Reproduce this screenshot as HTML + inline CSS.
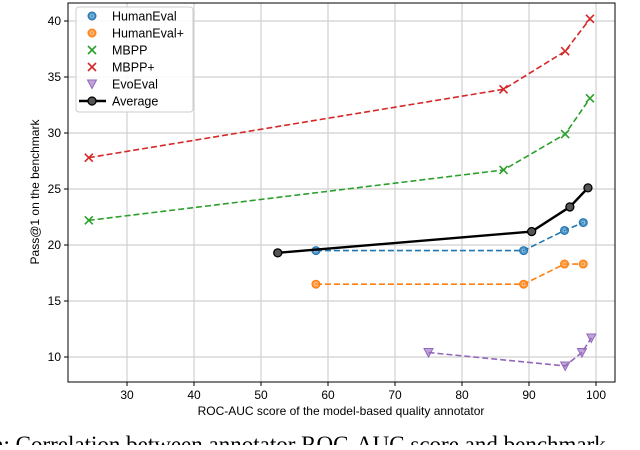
<!DOCTYPE html>
<html><head><meta charset="utf-8"><style>
body{margin:0;background:#fff;width:640px;height:445px;overflow:hidden;font-family:"Liberation Sans","DejaVu Sans",sans-serif}
</style></head><body>
<svg id="chart" width="640" height="445" xmlns="http://www.w3.org/2000/svg">
<g id="grid"></g>
<g id="series"></g>
<rect x="68" y="3" width="547" height="379" fill="none" stroke="#000" stroke-width="1"/>
<g id="ticks"></g>
<text x="341" y="415" font-size="12" text-anchor="middle">ROC-AUC score of the model-based quality annotator</text>
<text transform="translate(39,192) rotate(-90)" font-size="12" text-anchor="middle">Pass@1 on the benchmark</text>
<text x="-8" y="452" font-size="23" font-family="Liberation Serif,serif">n: Correlation between annotator ROC-AUC score and benchmark</text>
<g id="legend"></g>
</svg>
<script>
const xTicks=[30,40,50,60,70,80,90,100];
const yTicks=[10,15,20,25,30,35,40];
const seriesNames=["HumanEval","HumanEval+","MBPP","MBPP+","EvoEval","Average"];
const humanEvalX=[58.2,89.2,95.3,98.1], humanEvalY=[19.5,19.5,21.3,22.0];
const humanEvalPlusX=[58.2,89.2,95.3,98.1], humanEvalPlusY=[16.5,16.5,18.3,18.3];
const mbppX=[24.3,86.2,95.4,99.1], mbppY=[22.2,26.7,29.9,33.1];
const mbppPlusX=[24.3,86.2,95.4,99.1], mbppPlusY=[27.8,33.9,37.3,40.2];
const evoX=[75.0,95.4,97.9,99.3], evoY=[10.4,9.2,10.4,11.7];
const avgX=[52.5,90.4,96.1,98.8], avgY=[19.3,21.2,23.4,25.1];

const sx=v=>596+(v-100)*6.7;
const sy=v=>21+(40-v)*11.2;
const NS="http://www.w3.org/2000/svg";
function mk(tag,attrs,parent){const e=document.createElementNS(NS,tag);for(const k in attrs)e.setAttribute(k,attrs[k]);parent.appendChild(e);return e;}
const grid=document.getElementById('grid'),ticks=document.getElementById('ticks'),ser=document.getElementById('series'),leg=document.getElementById('legend');
xTicks.forEach(t=>{
  const l=mk('line',{x1:sx(t),x2:sx(t),y1:3,y2:382,stroke:'#d0d0d0','stroke-width':1.2},grid);
  
  
  const tk=mk('line',{x1:sx(t),x2:sx(t),y1:382,y2:386,stroke:'#000'},ticks);
  
  
  const tx=mk('text',{x:sx(t),y:399,'font-size':12,'text-anchor':'middle'},ticks);tx.textContent=t;
  
  
});
yTicks.forEach(t=>{
  const l=mk('line',{x1:68,x2:615,y1:sy(t),y2:sy(t),stroke:'#d0d0d0','stroke-width':1.2},grid);
  
  
  const tk=mk('line',{x1:64,x2:68,y1:sy(t),y2:sy(t),stroke:'#000'},ticks);
  
  
  const tx=mk('text',{x:61,y:sy(t)+4,'font-size':12,'text-anchor':'end'},ticks);tx.textContent=t;
  
  
});
function marker(type,x,y,c,p){
  if(type==='o'){mk('circle',{cx:x,cy:y,r:4,fill:c,stroke:c,'fill-opacity':0.8},p);mk('circle',{cx:x,cy:y,r:1.5,fill:'none',stroke:'#fff','stroke-width':0.6,'stroke-opacity':0.6},p);}
  else if(type==='x'){mk('path',{d:`M${x-4} ${y-4}L${x+4} ${y+4}M${x-4} ${y+4}L${x+4} ${y-4}`,stroke:c,'stroke-width':1.6},p);}
  else if(type==='v'){mk('path',{d:`M${x-4.5} ${y-4}L${x+4.5} ${y-4}L${x} ${y+4.5}Z`,fill:c,'fill-opacity':0.6,stroke:c},p);}
  else if(type==='avg'){mk('circle',{cx:x,cy:y,r:4,fill:'#555',stroke:'#000','stroke-width':1.3},p);}
}
const defs=[
 {name:seriesNames[0],xs:humanEvalX,ys:humanEvalY,c:'#1f77b4',m:'o',dash:'6,3',w:1.6},
 {name:seriesNames[1],xs:humanEvalPlusX,ys:humanEvalPlusY,c:'#ff7f0e',m:'o',dash:'6,3',w:1.6},
 {name:seriesNames[2],xs:mbppX,ys:mbppY,c:'#2ca02c',m:'x',dash:'6,3',w:1.6},
 {name:seriesNames[3],xs:mbppPlusX,ys:mbppPlusY,c:'#d62728',m:'x',dash:'6,3',w:1.6},
 {name:seriesNames[4],xs:evoX,ys:evoY,c:'#9467bd',m:'v',dash:'6,3',w:1.6},
 {name:seriesNames[5],xs:avgX,ys:avgY,c:'#000',m:'avg',dash:'',w:2.4}
];
defs.forEach(d=>{
  const g=mk('g',{},ser);
  
  
  const pts=d.xs.map((x,i)=>sx(x)+','+sy(d.ys[i])).join(' ');
  const pl=mk('polyline',{points:pts,fill:'none',stroke:d.c,'stroke-width':d.w,'stroke-dasharray':d.dash},g);
  
  
  d.xs.forEach((x,i)=>marker(d.m,sx(x),sy(d.ys[i]),d.c,g));
});
const box=mk('rect',{x:76,y:7,width:117,height:105,rx:3,fill:'#fff','fill-opacity':0.85,stroke:'#ccc'},leg);


defs.forEach((d,i)=>{
  const y=16+i*17;
  const g=mk('g',{},leg);
  
  
  if(d.m==='avg')mk('line',{x1:79,x2:106,y1:y,y2:y,stroke:'#000','stroke-width':2.4},g);
  marker(d.m,92,y,d.c,g);
  const t=mk('text',{x:112,y:y+4.5,'font-size':12.5},g);t.textContent=d.name;
});
</script>
</body></html>
